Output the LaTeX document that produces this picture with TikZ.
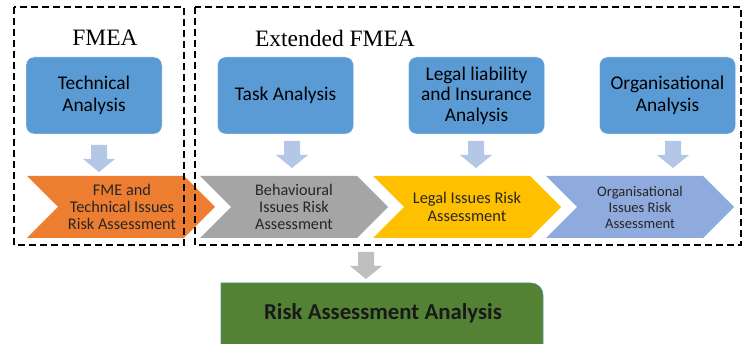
\documentclass[tikz,border=0pt]{standalone}
\usepackage{fontspec}
\setmainfont{Carlito}
\newfontfamily\serifhead{Liberation Serif}
\usetikzlibrary{calc}
\definecolor{boxblue}{HTML}{5B9BD5}
\definecolor{arrowblue}{HTML}{B4C7E7}
\definecolor{arrowgray}{HTML}{BFBFBF}
\definecolor{fmeorange}{HTML}{ED7D31}
\definecolor{behgray}{HTML}{A5A5A5}
\definecolor{legalyellow}{HTML}{FFC000}
\definecolor{orgblue}{HTML}{8FAADC}
\definecolor{riskgreen}{HTML}{548235}
\def\chevron[#1](#2){\fill[#1] (#2) -- ++(157,0) -- ++(31,31) -- ++(-31,31) -- ++(-157,0) -- ++(31,-31) -- cycle;}
\def\blockdown[#1](#2){\fill[#1] (#2) ++(-8,0) -- ++(16,0) -- ++(0,14) -- ++(8,0) -- ++(-16,13) -- ++(-16,-13) -- ++(8,0) -- cycle;}
\tikzset{
	anabox/.style={rectangle, rounded corners=8pt, fill=boxblue, draw=white, minimum width=136pt, minimum height=77pt, align=center, inner sep=2pt, font=\fontsize{19.4}{21.5}\selectfont},
	chevtext/.style={align=center, inner sep=0pt, text=black!85},
	dashbox/.style={line width=1.6pt, dash pattern=on 7pt off 4pt},
}

\begin{document}
\begin{tikzpicture}[x=1pt, y=-1pt]
		%%%%% START %%%%%
		\useasboundingbox (0,0) rectangle (747,344);
		\clip (0,0) rectangle (747,344);
		
		\node[font=\serifhead\fontsize{23.5}{26}\selectfont] (fmea) at (105,38) {FMEA};
		\node[font=\serifhead\fontsize{23.5}{26}\selectfont] (extfmea) at (335,38) {Extended FMEA};
		
		\node[anabox] (techana) at (94,95.5) {Technical\\Analysis};
		\node[anabox] (taskana) at (285.5,95.5) {Task Analysis};
		\node[anabox, font=\fontsize{19.4}{20.5}\selectfont] (legalana) at (476.5,95.5) {Legal liability\\and Insurance\\Analysis};
		\node[anabox] (organa) at (667.5,95.5) {Organisational\\Analysis};
		
		\blockdown[arrowblue](99,145);
		\blockdown[arrowblue](292,141);
		\blockdown[arrowblue](476,141);
		\blockdown[arrowblue](673,141);
		
		\chevron[fmeorange](27,176);
		\chevron[behgray](200,176);
		\chevron[legalyellow](373,176);
		\chevron[orgblue](546,176);
		
		\node[chevtext, font=\fontsize{16.3}{17}\selectfont] (fmerisk) at (122,207) {FME and\\Technical Issues\\Risk Assessment};
		\node[chevtext, font=\fontsize{16.2}{17}\selectfont] (behrisk) at (294,207) {Behavioural\\Issues Risk\\Assessment};
		\node[chevtext, font=\fontsize{16.4}{18}\selectfont] (legalrisk) at (467,207) {Legal Issues Risk\\Assessment};
		\node[chevtext, font=\fontsize{14.6}{16}\selectfont] (orgrisk) at (640,207) {Organisational\\Issues Risk\\Assessment};
		
		\draw[dashbox] (14,7) rectangle (184,245);
		\draw[dashbox] (195,7) rectangle (741,245);
		
		\blockdown[arrowgray](366,252);
		
		\draw[fill=riskgreen, draw=boxblue!60!riskgreen, line width=0.6pt] (221,360) -- (221,283) [rounded corners=12pt] -- (543,283) -- (543,360) [sharp corners] -- cycle;
		\node[font=\bfseries\fontsize{22.8}{24}\selectfont, text=black!90] (riskana) at (383,313) {Risk Assessment Analysis};
		%%%%% END %%%%%
\end{tikzpicture}
\end{document}
